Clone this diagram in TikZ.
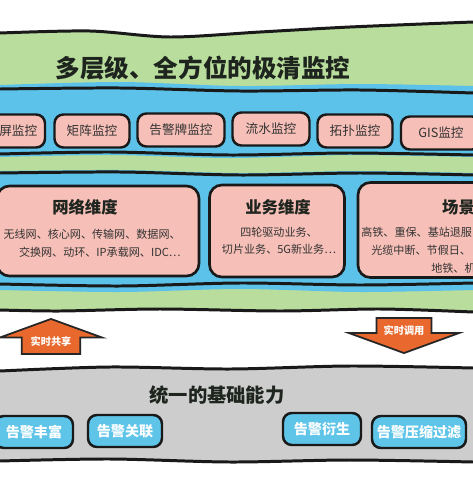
\documentclass[tikz,border=0pt]{standalone}
\usepackage{fontspec}
\setmainfont{Noto Sans CJK SC}
\usetikzlibrary{shapes.arrows}

\definecolor{bandgreen}{HTML}{B9DD9C}
\definecolor{bandblue}{HTML}{5CC2E9}
\definecolor{boxpink}{HTML}{F6BFB7}
\definecolor{basegray}{HTML}{CDCDCD}
\definecolor{basebluebox}{HTML}{5EC4E8}
\definecolor{arroworange}{HTML}{E8682D}
\definecolor{inkdark}{HTML}{1E241E}

\tikzset{
  edge/.style={line width=1.7pt, line cap=round, draw=black!90},
  monbox/.style={draw=black!90, line width=1.4pt, fill=boxpink, rounded corners=5pt,
    minimum height=0.66cm, inner sep=1pt, text=black!80, font=\fontsize{7.2}{8}\selectfont},
  dimbox/.style={draw=black!90, line width=1.5pt, fill=boxpink, rounded corners=7pt},
  dimtitle/.style={text=inkdark, font=\fontsize{9.3}{11}\selectfont\bfseries},
  dimtext/.style={text=black!80, inner sep=0pt, font=\fontsize{6.3}{10}\selectfont},
  basebox/.style={draw=black!90, line width=1.4pt, fill=basebluebox, rounded corners=5pt,
    minimum height=0.64cm, inner sep=1pt, text=white, font=\fontsize{8}{9}\selectfont\bfseries},
  sharearrow/.style={single arrow, draw=black!85, line width=1pt, fill=arroworange,
    text=white, font=\fontsize{5.8}{7}\selectfont\bfseries, inner xsep=4.5pt,
    single arrow tip angle=140, minimum height=0.7cm}
}

\begin{document}
\begin{tikzpicture}[x=0.02cm,y=-0.02cm]
\useasboundingbox (0,0) rectangle (473,477);
\clip (0,0) rectangle (473,477);

% bands
\fill[bandgreen] plot[smooth] coordinates {(0,33) (90,31) (170,37) (260,32) (350,27) (473,22)}
  -- plot[smooth] coordinates {(473,312) (380,309) (280,311) (160,309) (60,311) (0,309)} -- cycle;
\fill[bandblue] plot[smooth] coordinates {(0,85) (120,82) (240,86) (360,84) (473,86)}
  -- plot[smooth] coordinates {(473,157) (350,155) (230,158) (110,155) (0,157)} -- cycle;
\fill[bandblue] plot[smooth] coordinates {(0,171) (120,170) (240,173) (360,171) (473,173)}
  -- plot[smooth] coordinates {(473,290) (360,292) (240,289) (120,292) (0,290)} -- cycle;
\fill[basegray] plot[smooth] coordinates {(0,371) (110,367) (230,369) (350,366) (473,368)}
  -- plot[smooth] coordinates {(473,462) (350,460) (230,462) (110,459) (0,461)} -- cycle;

\draw[edge] plot[smooth] coordinates {(0,33) (90,31) (170,37) (260,32) (350,27) (473,22)};
\draw[edge] plot[smooth] coordinates {(0,89) (120,88) (240,91) (360,90) (473,93)};
\draw[edge] plot[smooth] coordinates {(0,154) (110,152) (230,155) (350,153) (473,155)};
\draw[edge] plot[smooth] coordinates {(0,173) (120,172) (240,175) (360,173) (473,175)};
\draw[edge] plot[smooth] coordinates {(0,284) (120,286) (240,283) (360,285) (473,283)};
\draw[edge] plot[smooth] coordinates {(0,310) (60,311) (160,309) (280,311) (380,309) (473,312)};
\draw[edge] plot[smooth] coordinates {(0,371) (110,367) (230,369) (350,366) (473,368)};
\draw[edge] plot[smooth] coordinates {(0,461) (110,459) (230,462) (350,460) (473,462)};

\node[text=inkdark, font=\fontsize{14}{16}\selectfont\bfseries] (title) at (203,68) {多层级、全方位的极清监控};

% monitoring views
\node[monbox, minimum width=1.32cm] (bigscreen) at (12,131) {大屏监控};
\node[monbox, minimum width=1.5cm] (matrix) at (92,131) {矩阵监控};
\node[monbox, minimum width=1.74cm] (alarmboard) at (181,130) {告警牌监控};
\node[monbox, minimum width=1.54cm] (flow) at (271,129) {流水监控};
\node[monbox, minimum width=1.5cm] (topo) at (355,131) {拓扑监控};
\node[monbox, minimum width=1.6cm] (gis) at (441,133) {GIS监控};

% dimensions
\node[dimbox, minimum width=4.04cm, minimum height=1.8cm] (netbox) at (98,231) {};
\node[dimbox, minimum width=2.7cm, minimum height=1.84cm] (svcbox) at (277,231) {};
\node[dimbox, minimum width=2.6cm, minimum height=1.9cm] (scenebox) at (423,230) {};

\node[dimtitle] (nettitle) at (85,207) {网络维度};
\node[dimtext, anchor=east, align=right] (nettext) at (181,243) {无线网、核心网、传输网、数据网、\\交换网、动环、IP承载网、IDC…};
\node[dimtitle] (svctitle) at (278,207) {业务维度};
\node[dimtext, align=center] (svctext) at (279,241) {四轮驱动业务、\\切片业务、5G新业务…};
\node[dimtitle, anchor=west] (scenetitle) at (436,207) {场景维度};
\node[dimtext, anchor=west] (scene1) at (361,232) {高铁、重保、基站退服};
\node[dimtext, anchor=west] (scene2) at (371,250) {光缆中断、节假日、};
\node[dimtext, anchor=west] (scene3) at (431,268) {地铁、机};

% arrows
\node[sharearrow, shape border rotate=90, anchor=tip, single arrow head extend=0.44cm] (share) at (51,318) {实时共享};
\node[sharearrow, shape border rotate=270, anchor=tip, single arrow head extend=0.56cm, inner xsep=3.5pt] (call) at (404,354) {实时调用};

% base capabilities
\node[text=inkdark, font=\fontsize{11}{13}\selectfont\bfseries] (basetitle) at (217,395) {统一的基础能力};
\node[basebox, minimum width=1.56cm] (enrich) at (34,432) {告警丰富};
\node[basebox, minimum width=1.48cm] (correlate) at (125,431) {告警关联};
\node[basebox, minimum width=1.56cm] (derive) at (322,429) {告警衍生};
\node[basebox, minimum width=1.88cm] (compress) at (419,432) {告警压缩过滤};
\end{tikzpicture}
\end{document}
